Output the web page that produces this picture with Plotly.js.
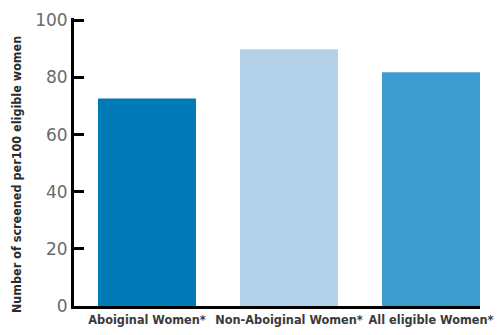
<!DOCTYPE html>
<html>
<head>
<meta charset="utf-8">
<script src="https://cdn.plot.ly/plotly-3.0.1.min.js"></script>
<style>
  html, body { margin: 0; padding: 0; background: #fff; }
  #chart { width: 502px; height: 335px; }
</style>
</head>
<body>
<div id="chart"></div>
<script>
// Screening rate per 100 eligible women, by group
const categories = ["Aboiginal Women*", "Non-Aboiginal Women*", "All eligible Women*"];
const screened = [72.6, 89.9, 81.8];
const barColors = ["#007bb8", "#b3d1e8", "#3d9bcd"];
const yTicks = [0, 20, 40, 60, 80, 100];
const yTitle = "Number of screened per100 eligible women";

const condensed = "'DejaVu Sans Condensed', 'Liberation Sans Narrow', sans-serif";
const thin = "'DejaVu Sans ExtraLight', 'DejaVu Sans', sans-serif";

const trace = {
  type: "bar",
  x: categories,
  y: screened,
  marker: { color: barColors, line: { width: 0 } },
  width: 0.69,
  hoverinfo: "x+y"
};

const layout = {
  width: 502,
  height: 335,
  margin: { l: 74, r: 22, t: 18, b: 29 },
  paper_bgcolor: "#ffffff",
  plot_bgcolor: "#ffffff",
  showlegend: false,
  xaxis: {
    type: "category",
    range: [-0.514, 2.345],
    showline: true,
    linecolor: "#000000",
    linewidth: 3,
    ticks: "",
    tickangle: 0,
    showgrid: false,
    zeroline: false,
    tickfont: { family: condensed, size: 12.6, color: "#3a3a3a", weight: "bold" }
  },
  yaxis: {
    // a little headroom above 100 keeps its tick mark drawn
    range: [0, 100.8],
    tickvals: yTicks,
    showline: true,
    linecolor: "#000000",
    linewidth: 3,
    ticks: "inside",
    ticklen: 10,
    tickwidth: 3,
    tickcolor: "#000000",
    showgrid: false,
    zeroline: false,
    tickfont: { family: thin, size: 17, color: "#6a6a6a" }
  },
  annotations: [{
    text: yTitle,
    xref: "paper", yref: "paper",
    x: -0.14, y: 0.455,
    xanchor: "center", yanchor: "middle",
    textangle: -90,
    showarrow: false,
    font: { family: condensed, size: 12.5, color: "#2a2a2a", weight: "bold" }
  }]
};

Plotly.newPlot("chart", [trace], layout, { displayModeBar: false, staticPlot: true });
</script>
</body>
</html>
